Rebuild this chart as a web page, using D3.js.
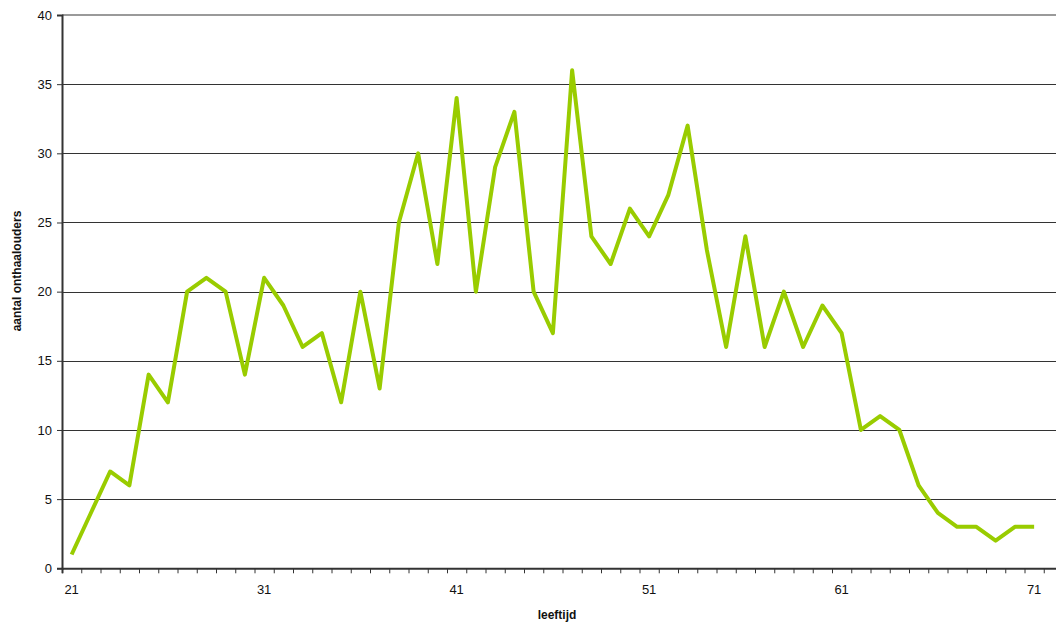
<!DOCTYPE html>
<html>
<head>
<meta charset="utf-8">
<script src="https://cdn.jsdelivr.net/npm/d3@7"></script>
<style>
  html, body { margin: 0; padding: 0; background: #fff; }
  svg { display: block; font-family: "Liberation Sans", Arial, sans-serif; }
</style>
</head>
<body>
<svg id="chart" width="1056" height="623"></svg>
<script>
// Number of childminders (onthaalouders) per age
const ages = d3.range(21, 72);
const counts = [
  1, 4, 7, 6, 14, 12, 20, 21, 20, 14,
  21, 19, 16, 17, 12, 20, 13, 25, 30, 22,
  34, 20, 29, 33, 20, 17, 36, 24, 22, 26,
  24, 27, 32, 23, 16, 24, 16, 20, 16, 19,
  17, 10, 11, 10, 6, 4, 3, 3, 2, 3,
  3
];
const xTickLabels = [21, 31, 41, 51, 61, 71];
const yTickLabels = [0, 5, 10, 15, 20, 25, 30, 35, 40];

const data = ages.map((a, i) => ({ age: a, n: counts[i] }));

const svg = d3.select("#chart");
const plotLeft = 62, plotTop = 15, plotBottom = 568.3;
const step = 19.25;

// categories are centred in slots; slot borders carry the tick marks
const x = d3.scaleLinear()
  .domain([20.5, 72.5])
  .range([plotLeft, plotLeft + 52 * step]);
const y = d3.scaleLinear().domain([0, 40]).range([plotBottom, plotTop]);

// horizontal gridlines
svg.append("g")
  .selectAll("line")
  .data(yTickLabels.filter(v => v > 0 && v < 40))
  .join("line")
  .attr("x1", plotLeft).attr("x2", 1056)
  .attr("y1", d => Math.round(y(d)) + 0.5).attr("y2", d => Math.round(y(d)) + 0.5)
  .attr("stroke", "#333").attr("stroke-width", 1);

// top border of the plot area
svg.append("line")
  .attr("x1", plotLeft).attr("x2", 1056)
  .attr("y1", y(40)).attr("y2", y(40))
  .attr("stroke", "#9a9a9a").attr("stroke-width", 2);

// y axis
const yAxis = d3.axisLeft(y).tickValues(yTickLabels).tickSize(5).tickPadding(5).tickFormat(d3.format("d"));
const gy = svg.append("g").attr("transform", `translate(${plotLeft},0)`).call(yAxis);
gy.select(".domain").attr("stroke", "#333").attr("stroke-width", 2);
gy.selectAll(".tick line").attr("stroke", "#333");
gy.selectAll("text").attr("font-size", 13).attr("fill", "#111").attr("font-family", "Liberation Sans, Arial, sans-serif");

// x axis: minor ticks at slot borders, labels every ten years
const borders = d3.range(20.5, 73, 1);
const gx = svg.append("g").attr("transform", `translate(0,${plotBottom})`);
gx.call(d3.axisBottom(x).tickValues(borders).tickSize(5).tickFormat(""));
gx.select(".domain").attr("stroke", "#333").attr("stroke-width", 2);
gx.selectAll(".tick line").attr("stroke", "#333");
gx.append("g")
  .selectAll("text")
  .data(xTickLabels)
  .join("text")
  .attr("x", d => x(d))
  .attr("y", 26)
  .attr("text-anchor", "middle")
  .attr("font-size", 13)
  .attr("fill", "#111")
  .text(d => d);

// data line
svg.append("path")
  .datum(data)
  .attr("fill", "none")
  .attr("stroke", "#99cc00")
  .attr("stroke-width", 4)
  .attr("stroke-linejoin", "round")
  .attr("d", d3.line().x(d => x(d.age)).y(d => y(d.n)));

// axis titles
svg.append("text")
  .attr("x", 557).attr("y", 619)
  .attr("text-anchor", "middle")
  .attr("font-size", 12).attr("font-weight", "bold")
  .attr("fill", "#111")
  .text("leeftijd");

svg.append("text")
  .attr("transform", "translate(21,271) rotate(-90)")
  .attr("text-anchor", "middle")
  .attr("font-size", 12).attr("font-weight", "bold")
  .attr("fill", "#111")
  .text("aantal onthaalouders");
</script>
</body>
</html>
